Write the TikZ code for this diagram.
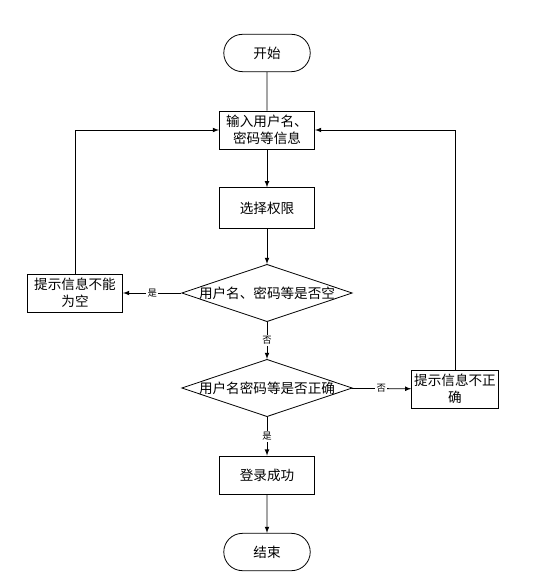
\documentclass[tikz,border=0pt]{standalone}
\usepackage{fontspec}
\newfontfamily\cjk{Noto Sans CJK SC}
\usetikzlibrary{shapes, arrows, positioning}

\begin{document}
\begin{tikzpicture}[x=0.75pt, y=-0.75pt, >=latex, line width=0.6pt,
  every node/.style={font=\cjk\fontsize{10.2}{13}\selectfont},
  terminal/.style={draw, rounded rectangle, minimum width=71.5pt, minimum height=28pt},
  procbox/.style={draw, rectangle, minimum width=71.5pt, minimum height=28.5pt,
                  align=center, inner sep=1pt},
  decision/.style={draw, diamond, minimum width=128pt, minimum height=43pt, inner sep=0pt},
  yesno/.style={fill=white, inner sep=1pt, font=\cjk\fontsize{7}{8}\selectfont}]

\useasboundingbox (0,0) rectangle (545,580);

% Main column
\node[terminal] (start) at (267, 53) {开始};
\node[procbox] (input) at (267, 130) {输入用户名、\\密码等信息};
\node[procbox, minimum height=30.5pt] (role) at (267, 208) {选择权限};
\node[decision] (empty) at (267, 293) {\makebox[0pt]{用户名、密码等是否空}};
\node[decision] (check) at (267, 388) {\makebox[0pt]{用户名密码等是否正确}};
\node[procbox] (ok) at (267, 475) {登录成功};
\node[terminal] (stop) at (267, 552) {结束};

% Side boxes
\node[procbox] (warnempty) at (75, 293) {提示信息不能\\为空};
\node[procbox, minimum width=65pt] (warnwrong) at (455, 389) {提示信息不正\\确};

% Connectors
\draw (start) -- (input);
\draw[->] (input) -- (role);
\draw[->] (role) -- (empty);
\draw[->] (empty) -- node[yesno] {是} (warnempty);
\draw[->] (empty) -- node[yesno] {否} (check);
\draw[->] (check) -- node[yesno] {否} (warnwrong);
\draw[->] (check) -- node[yesno] {是} (ok);
\draw[->] (ok) -- (stop);

% Loops back to input
\draw[->] (warnempty.north) |- (input.west);
\draw[->] (warnwrong.north) |- (input.east);

\end{tikzpicture}
\end{document}
